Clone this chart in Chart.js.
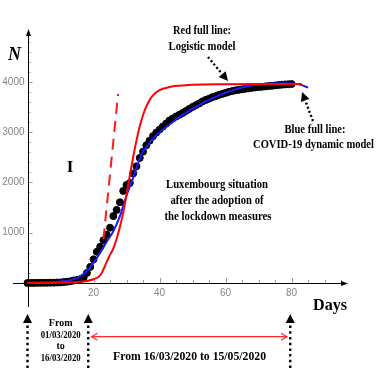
<!DOCTYPE html>
<html>
<head>
<meta charset="utf-8">
<script src="https://cdn.jsdelivr.net/npm/chart.js@4.4.0/dist/chart.umd.min.js"></script>
<style>
  html, body { margin: 0; padding: 0; background: #fff; }
  #wrap { width: 382px; height: 382px; }
</style>
</head>
<body>
<div id="wrap"><canvas id="myChart" width="382" height="382"></canvas></div>
<script>
// observed cumulative cases, day 0 = 01/03/2020
const days = [0,1,2,3,4,5,6,7,8,9,10,11,12,13,14,15,16,17,18,19,20,21,22,23,24,25,26,27,28,29,30,
  31,32,33,34,35,36,37,38,39,40,41,42,43,44,45,46,47,48,49,50,51,52,53,54,55,56,57,58,59,60,
  61,62,63,64,65,66,67,68,69,70,71,72,73,74,75,76,77,78,79,80];
const cases = [0,2,2,3,3,4,5,7,7,10,12,19,26,34,51,59,77,110,200,320,470,620,720,850,960,1100,1330,1453,1605,1831,1950,
  1988,2178,2319,2487,2612,2740,2830,2920,2990,3050,3110,3170,3230,3270,3310,3345,3380,3420,3460,3500,3535,3570,3610,3640,3665,3695,3715,3740,3760,3780,
  3800,3815,3830,3840,3850,3860,3870,3880,3888,3895,3900,3908,3915,3920,3928,3935,3942,3948,3952,3956];

// blue full line: COVID-19 dynamic model
const blueDays = [0,5,10,13,16,18,20,22,24,26,28,30,32,34,35,36,38,40,43,46,50,54,58,62,66,70,74,78,81,83,85];
const blueN = [10,15,30,55,130,240,400,600,820,1030,1330,1740,2090,2470,2620,2700,2870,2990,3150,3300,3460,3610,3730,3830,3900,3945,3965,3972,3960,3935,3885];

// red full line: logistic model
const redDays = [0,10,15,18,20,22,24,25,26,27,28,29,30,31,32,33,34,35,36,37,38,40,43,46,50,60,70,83];
const redN = [2,6,18,40,75,150,420,560,690,880,1120,1400,1760,2140,2500,2830,3110,3340,3510,3640,3730,3835,3895,3922,3940,3952,3955,3955];

// red dashed line (initial growth)
const dashDays = [23.0, 27.45];
const dashN = [870, 3760];

// tick labels
const xTicks = [20, 40, 60, 80];
const yTicks = [1000, 2000, 3000, 4000];

const pts = (xs, ys) => xs.map((v, i) => ({ x: v, y: ys[i] }));

const annot = {
  id: 'annot',
  beforeDatasetsDraw(chart) {
    const { ctx, chartArea: a, scales: { x, y } } = chart;
    const x0 = x.getPixelForValue(0), y0 = y.getPixelForValue(0);
    ctx.save();
    // minor / major ticks
    ctx.strokeStyle = '#9a9a9a';
    ctx.lineWidth = 1;
    ctx.beginPath();
    for (let v = 5; v <= 95; v += 5) {
      const px = Math.round(x.getPixelForValue(v)) + 0.5;
      ctx.moveTo(px, y0);
      ctx.lineTo(px, y0 - (v % 20 === 0 ? 5 : 3));
    }
    for (let v = 200; v <= 4800; v += 200) {
      const py = Math.round(y.getPixelForValue(v)) + 0.5;
      ctx.moveTo(x0, py);
      ctx.lineTo(x0 + (v % 1000 === 0 ? 5 : 3), py);
    }
    ctx.stroke();
    // axes
    ctx.strokeStyle = '#000';
    ctx.fillStyle = '#000';
    ctx.beginPath();
    ctx.moveTo(a.left, Math.round(y0) + 0.5);
    ctx.lineTo(a.right - 4, Math.round(y0) + 0.5);
    ctx.moveTo(Math.round(x0) + 0.5, a.bottom);
    ctx.lineTo(Math.round(x0) + 0.5, a.top + 4);
    ctx.stroke();
    ctx.beginPath();
    ctx.moveTo(a.right, Math.round(y0) + 0.5);
    ctx.lineTo(a.right - 7, Math.round(y0) - 2);
    ctx.lineTo(a.right - 7, Math.round(y0) + 3);
    ctx.closePath();
    ctx.moveTo(Math.round(x0) + 0.5, a.top);
    ctx.lineTo(Math.round(x0) - 2, a.top + 7);
    ctx.lineTo(Math.round(x0) + 3, a.top + 7);
    ctx.closePath();
    ctx.fill();
    // tick labels
    ctx.fillStyle = '#858585';
    ctx.font = '10px "Liberation Sans"';
    ctx.textAlign = 'center';
    ctx.textBaseline = 'middle';
    xTicks.forEach(v => ctx.fillText(String(v), x.getPixelForValue(v), y0 + 10));
    ctx.textAlign = 'right';
    yTicks.forEach(v => ctx.fillText(String(v), x0 - 3, y.getPixelForValue(v)));
    ctx.restore();
  },
  afterDraw(chart) {
    const { ctx, scales: { x } } = chart;
    ctx.save();
    ctx.fillStyle = '#000';
    ctx.textAlign = 'center';
    ctx.textBaseline = 'middle';

    function txt(s, cx, cy, size, w, style) {
      ctx.save();
      ctx.font = (style || 'bold') + ' ' + size + 'px "Liberation Serif"';
      const m = ctx.measureText(s).width;
      const k = w ? w / m : 1;
      ctx.translate(cx, cy);
      ctx.scale(k, 1);
      ctx.fillText(s, 0, 0);
      ctx.restore();
    }
    function head(x1, y1, x2, y2, hl, hw) {
      const ang = Math.atan2(y2 - y1, x2 - x1);
      const c = Math.cos(ang), s = Math.sin(ang);
      const bx = x2 - hl * c, by = y2 - hl * s;
      ctx.beginPath();
      ctx.moveTo(x2, y2);
      ctx.lineTo(bx - hw * s, by + hw * c);
      ctx.lineTo(bx + hw * s, by - hw * c);
      ctx.closePath();
      ctx.fill();
      return [bx, by];
    }
    function dotArrow(x1, y1, x2, y2, hl, hw, dash) {
      const [bx, by] = head(x1, y1, x2, y2, hl, hw);
      ctx.save();
      ctx.strokeStyle = '#000';
      ctx.lineWidth = 2.4;
      ctx.setLineDash(dash);
      ctx.beginPath();
      ctx.moveTo(x1, y1);
      ctx.lineTo(bx, by);
      ctx.stroke();
      ctx.restore();
    }

    txt('N', 14.5, 55, 18, 0, 'italic bold');
    txt('Red full line:', 202, 31, 12.5, 58);
    txt('Logistic model', 202, 46.5, 12.5, 67);
    dotArrow(208, 57, 228, 81, 9, 4.5, [2, 2.4]);

    txt('Blue full line:', 315, 130, 12.5, 61);
    txt('COVID-19 dynamic model', 313.5, 145, 12.5, 121);
    dotArrow(313, 121, 302, 92, 9, 4.5, [2, 2.4]);

    txt('I', 70, 168, 17, 0);
    txt('Luxembourg situation', 217, 185, 11.5, 102);
    txt('after the adoption of', 217, 201, 11.5, 93);
    txt('the lockdown measures', 218, 217, 11.5, 107);

    txt('Days', 330, 306, 16, 34);

    // period markers below the axis
    [0, 18.4, 79.6].forEach(d => {
      const px = x.getPixelForValue(d);
      dotArrow(px, 368, px, 314, 9, 4.5, [2.5, 3.2]);
    });
    txt('From', 60.7, 323.5, 10, 0);
    txt('01/03/2020', 60.7, 335, 10, 40);
    txt('to', 60.7, 346.7, 10, 0);
    txt('16/03/2020', 60.7, 358.3, 10, 40);

    // red double arrow
    const l = 91.5, r = 287, ya = 336.7;
    ctx.strokeStyle = '#ff2a2a';
    ctx.lineWidth = 1.2;
    ctx.beginPath();
    ctx.moveTo(l, ya); ctx.lineTo(r, ya);
    ctx.moveTo(l + 6, ya - 3.5); ctx.lineTo(l, ya); ctx.lineTo(l + 6, ya + 3.5);
    ctx.moveTo(r - 6, ya - 3.5); ctx.lineTo(r, ya); ctx.lineTo(r - 6, ya + 3.5);
    ctx.stroke();
    txt('From 16/03/2020 to 15/05/2020', 189.5, 356.7, 12.5, 153);
    ctx.restore();
  }
};

const data = {
  datasets: [
    {
      label: 'Luxembourg data',
      data: pts(days, cases),
      backgroundColor: '#000',
      borderColor: '#000',
      pointRadius: 3.5,
      pointBorderWidth: 1,
      showLine: false,
      order: 4
    },
    {
      label: 'COVID-19 dynamic model',
      data: pts(blueDays, blueN),
      borderColor: '#1a1aff',
      borderWidth: 2,
      pointRadius: 0,
      showLine: true,
      cubicInterpolationMode: 'monotone',
      order: 3
    },
    {
      label: 'Logistic model',
      data: pts(redDays, redN),
      borderColor: '#ff0000',
      borderWidth: 2,
      pointRadius: 0,
      showLine: true,
      cubicInterpolationMode: 'monotone',
      order: 2
    },
    {
      label: 'Initial growth',
      data: pts(dashDays, dashN),
      borderColor: '#ff1a1a',
      borderWidth: 2,
      borderDash: [11, 7],
      pointRadius: 0,
      showLine: true,
      order: 1
    }
  ]
};

const config = {
  type: 'scatter',
  data,
  options: {
    responsive: false,
    animation: false,
    devicePixelRatio: 1,
    clip: false,
    layout: { padding: { left: 13, top: 29, right: 34, bottom: 75 } },
    plugins: { legend: { display: false }, tooltip: { enabled: false } },
    scales: {
      x: { type: 'linear', min: -4.4, max: 97.1, display: false },
      y: { type: 'linear', min: -477, max: 5050, display: false }
    }
  },
  plugins: [annot]
};

const myChart = new Chart(document.getElementById('myChart'), config);
</script>
</body>
</html>
